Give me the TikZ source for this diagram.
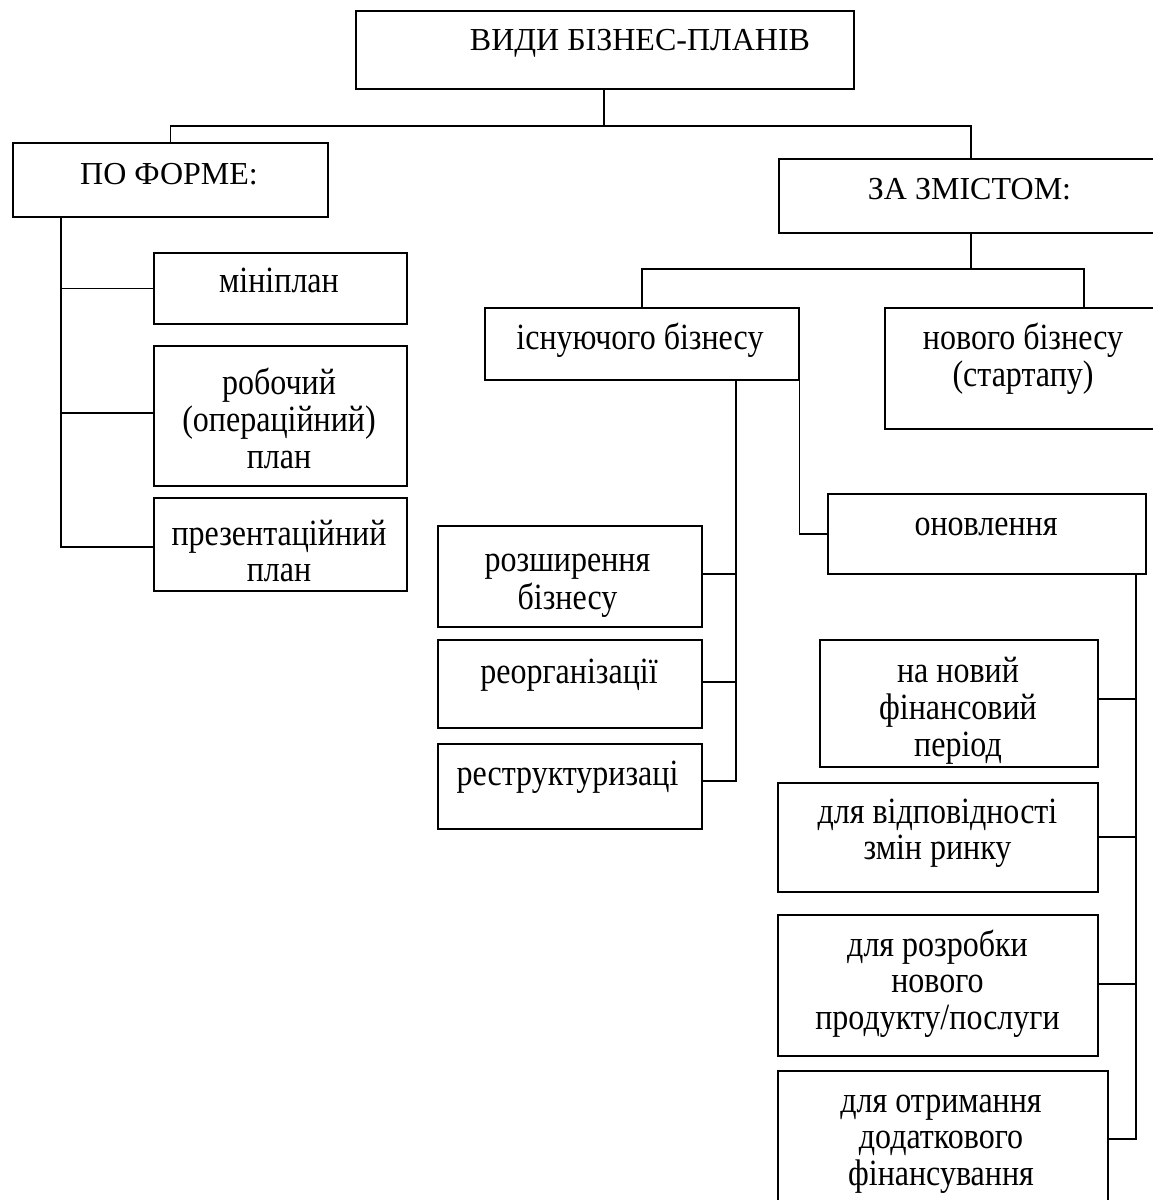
\documentclass[tikz,border=0pt]{standalone}
\usepackage{fontspec}
\setmainfont{Liberation Serif}
\newfontfamily\lcfont{Liberation Serif}[FakeStretch=0.865]
\begin{document}
\begin{tikzpicture}[x=1pt,y=-1pt,
  ln/.style={line width=1.6pt, line cap=rect},
  box/.style={draw, line width=1.6pt, rectangle, inner sep=0pt, anchor=north west},
  txt/.style={font=\lcfont\fontsize{37pt}{36.5pt}\selectfont, align=center, inner sep=0pt, anchor=north},
  captxt/.style={font=\fontsize{32pt}{36.5pt}\selectfont, align=center, inner sep=0pt, anchor=north}]
\useasboundingbox (0,0) rectangle (1153,1200);
% boxes
\node[box, minimum width=498pt, minimum height=78pt] (top) at (355,10) {};
\node[box, minimum width=315pt, minimum height=74pt] (pf) at (12,142) {};
\node[box, minimum width=253pt, minimum height=71pt] (mini) at (153,252) {};
\node[box, minimum width=253pt, minimum height=140pt] (rob) at (153,345) {};
\node[box, minimum width=253pt, minimum height=93pt] (prez) at (153,497) {};
\node[box, minimum width=400pt, minimum height=74pt] (zz) at (778,158) {};
\node[box, minimum width=314pt, minimum height=72pt] (isn) at (484,307) {};
\node[box, minimum width=300pt, minimum height=121pt] (nov) at (884,307) {};
\node[box, minimum width=318pt, minimum height=80pt] (onov) at (827,493) {};
\node[box, minimum width=264pt, minimum height=101pt] (rozsh) at (437,525) {};
\node[box, minimum width=264pt, minimum height=88pt] (reorg) at (437,639) {};
\node[box, minimum width=264pt, minimum height=85pt] (restr) at (437,743) {};
\node[box, minimum width=278pt, minimum height=127pt] (fin) at (819,639) {};
\node[box, minimum width=320pt, minimum height=109pt] (vidp) at (777,782) {};
\node[box, minimum width=320pt, minimum height=141pt] (rozr) at (777,914) {};
\node[box, minimum width=330pt, minimum height=150pt] (otr) at (777,1070) {};
% texts
\node[captxt] (t0) at (640,24.5) {\strut ВИДИ БІЗНЕС-ПЛАНІВ};
\node[captxt] (tpf) at (169,158.5) {\strut ПО ФОРМЕ:};
\node[captxt] (tzz) at (969.5,173.5) {\strut ЗА ЗМІСТОМ:};
\node[txt] (tmini) at (279,266.5) {\strut мініплан};
\node[txt] (trob) at (279,367.5) {\strut робочий\\(операційний)\\план};
\node[txt] (tprez) at (279,519.5) {\strut презентаційний\\план};
\node[txt] (tisn) at (640,322.5) {\strut існуючого бізнесу};
\node[txt] (tnov) at (1023,322.5) {\strut нового бізнесу\\(стартапу)};
\node[txt] (tonov) at (986,509.5) {\strut оновлення};
\node[txt] (trozsh) at (567.5,545.5) {\strut розширення\\бізнесу};
\node[txt] (treorg) at (569,657.5) {\strut реорганізації};
\node[txt] (trestr) at (567.5,759.5) {\strut реструктуризаці};
\node[txt] (tfin) at (958,656.5) {\strut на новий\\фінансовий\\період};
\node[txt] (tvidp) at (937.5,797.5) {\strut для відповідності\\змін ринку};
\node[txt] (trozr) at (937.5,929.5) {\strut для розробки\\нового\\продукту/послуги};
\node[txt] (totr) at (941,1086.5) {\strut для отримання\\додаткового\\фінансування};
% junctions
\coordinate (b1) at (604,126);
\coordinate (zzleg) at (971,158);
\coordinate (s1) at (61,547);
\coordinate (b2) at (971,269);
\coordinate (novleg) at (1084,307);
\coordinate (sa) at (736,781);
\coordinate (sa1) at (736,574);
\coordinate (sa2) at (736,682);
\coordinate (sb) at (1136,1139);
\coordinate (sb1) at (1136,699);
\coordinate (sb2) at (1136,837);
\coordinate (sb3) at (1136,984);
\coordinate (rj) at (61,413);
% connectors
\draw[ln] (b1 |- top.south) -- (b1);
\draw[ln] (pf.north) |- (b1) -| (zzleg);
\draw[ln] (pf.south -| s1) -- (s1) -- (prez.west |- s1);
\draw[ln] (s1 |- mini.west) -- (mini.west);
\draw[ln] (rj) -- (rob.west |- rj);
\draw[ln] (b2 |- zz.south) -- (b2);
\draw[ln] (isn.north) |- (b2) -| (novleg);
\draw[ln] (sa |- isn.south) -- (sa) -- (restr.east |- sa);
\draw[ln] (sa1) -- (rozsh.east |- sa1);
\draw[ln] (sa2) -- (reorg.east |- sa2);
\draw[ln] (isn.south east) |- (onov.west);
\draw[ln] (sb |- onov.south) -- (sb) -- (otr.east |- sb);
\draw[ln] (sb1) -- (fin.east |- sb1);
\draw[ln] (sb2) -- (vidp.east |- sb2);
\draw[ln] (sb3) -- (rozr.east |- sb3);
\end{tikzpicture}
\end{document}
